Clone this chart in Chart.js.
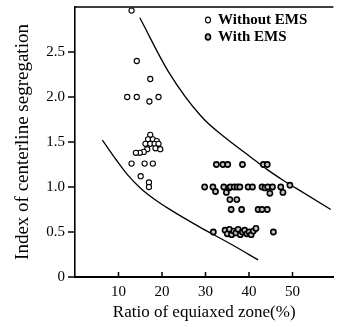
<!DOCTYPE html>
<html><head><meta charset="utf-8">
<script src="https://cdn.jsdelivr.net/npm/chart.js@4.4.0/dist/chart.umd.min.js"></script>
<style>html,body{margin:0;padding:0;background:#fff}</style>
</head><body>
<canvas id="c" width="339" height="327"></canvas>
<script>
const xTicks = [10, 20, 30, 40, 50];
const yTicks = [0, 0.5, 1.0, 1.5, 2.0, 2.5];
const yTickLabels = ['0', '0.5', '1.0', '1.5', '2.0', '2.5'];
const seriesNames = ['Without EMS', 'With EMS'];

const withoutX = [13.0, 14.2, 17.3, 12.0, 14.2, 17.1, 19.2, 17.3, 16.8, 17.9, 18.8, 16.2, 17.3, 18.3, 19.2, 18.5, 19.6, 16.6, 15.8, 14.9, 14.0, 13.0, 16.0, 17.9, 15.1, 17.0, 17.0];
const withoutY = [2.96, 2.40, 2.20, 2.00, 2.00, 1.95, 2.00, 1.58, 1.53, 1.53, 1.51, 1.48, 1.48, 1.48, 1.48, 1.43, 1.42, 1.42, 1.39, 1.38, 1.38, 1.26, 1.26, 1.26, 1.12, 1.05, 1.00];

const withX = [32.5, 34.0, 35.1, 38.5, 43.3, 44.2,
  29.8, 31.7, 32.3, 34.2, 34.8, 35.4, 35.7, 36.6, 37.3, 37.9, 39.8, 40.8, 43.0, 43.7, 44.3, 44.8, 45.4, 47.3, 47.8, 49.4,
  35.6, 37.2,
  35.9, 38.3, 42.1, 43.0, 44.2,
  31.8, 34.5, 35.0, 35.5, 36.0, 36.5, 37.0, 37.5, 38.0, 38.5, 39.0, 39.5, 40.0, 40.5, 41.0, 41.6, 45.6];
const withY = [1.25, 1.25, 1.25, 1.25, 1.25, 1.25,
  1.00, 1.00, 0.95, 1.00, 0.94, 0.99, 1.00, 1.00, 1.00, 1.00, 1.00, 1.00, 1.00, 0.99, 1.00, 0.93, 1.00, 1.00, 0.94, 1.02,
  0.86, 0.86,
  0.75, 0.75, 0.75, 0.75, 0.75,
  0.50, 0.52, 0.48, 0.53, 0.47, 0.51, 0.49, 0.53, 0.47, 0.50, 0.52, 0.48, 0.50, 0.47, 0.51, 0.54, 0.50];

const upperX = [14.9, 21.5, 29.1, 35.0, 40.2, 44.3, 48.0, 50.7, 58.8];
const upperY = [2.88, 2.28, 1.78, 1.53, 1.34, 1.19, 1.07, 0.99, 0.75];
const lowerX = [6.3, 9.5, 12.0, 15.0, 18.1, 21.5, 28.5, 36.4, 42.1];
const lowerY = [1.52, 1.30, 1.14, 0.99, 0.87, 0.76, 0.56, 0.35, 0.19];

const pts = (xs, ys) => xs.map((x, i) => ({x: x, y: ys[i]}));
const serif = "'Liberation Serif', 'DejaVu Serif', serif";

const frame = {
  id: 'frame',
  afterLayout(chart) {
    const lg = chart.legend;
    if (lg) { lg.left = 203.5; lg.top = 10.5; lg.bottom = lg.top + lg.height; lg.right = lg.left + lg.width; }
  },
  afterDraw(chart) {
    const {ctx, chartArea: {left, top, right, bottom}, scales: {x, y}} = chart;
    ctx.save();
    ctx.strokeStyle = '#000';
    ctx.lineWidth = 1.5;
    ctx.beginPath();
    ctx.moveTo(left - 1, top); ctx.lineTo(right, top);
    xTicks.forEach(v => { const p = x.getPixelForValue(v); ctx.moveTo(p, bottom); ctx.lineTo(p, bottom - 5); });
    yTicks.forEach(v => { const p = y.getPixelForValue(v); ctx.moveTo(left - 7, p); ctx.lineTo(left, p); });
    ctx.stroke();
    ctx.restore();
  }
};

new Chart(document.getElementById('c'), {
  type: 'scatter',
  data: {
    datasets: [
      {label: seriesNames[0], data: pts(withoutX, withoutY), pointRadius: 2.6, pointBorderWidth: 1.1, borderWidth: 1.1,
       borderColor: '#000', backgroundColor: '#fff', pointStyle: 'circle', order: 0},
      {label: seriesNames[1], data: pts(withX, withY), pointRadius: 2.6, pointBorderWidth: 1.6, borderWidth: 1.6,
       borderColor: '#000', backgroundColor: '#c4c4c4', pointStyle: 'circle', order: 0},
      {type: 'line', label: 'upper', data: pts(upperX, upperY), showLine: true, pointRadius: 0, borderColor: '#000',
       borderWidth: 1.3, fill: false, cubicInterpolationMode: 'monotone', order: 1},
      {type: 'line', label: 'lower', data: pts(lowerX, lowerY), showLine: true, pointRadius: 0, borderColor: '#000',
       borderWidth: 1.3, fill: false, cubicInterpolationMode: 'monotone', order: 1}
    ]
  },
  options: {
    responsive: false,
    animation: false,
    devicePixelRatio: 1,
    layout: {padding: {top: 7, right: 0, left: 0, bottom: 0}},
    plugins: {
      tooltip: {enabled: false},
      legend: {
        position: 'chartArea',
        align: 'start',
        labels: {
          filter: item => item.datasetIndex < 2,
          usePointStyle: true, pointStyleWidth: 5, boxHeight: 4, padding: 2,
          color: '#000', font: {family: serif, size: 15, weight: 'bold'}
        }
      }
    },
    scales: {
      x: {
        type: 'linear', min: 0, max: 59.4,
        afterBuildTicks: s => { s.ticks = xTicks.map(v => ({value: v})); },
        afterFit: s => { s.height = 50; s.paddingLeft = 0; s.paddingRight = 0; },
        grid: {display: false, drawTicks: false},
        border: {display: true, color: '#000', width: 2},
        ticks: {color: '#000', padding: 6, font: {family: serif, size: 15}, maxRotation: 0},
        title: {display: true, text: 'Ratio of equiaxed zone(%)', color: '#000', padding: {top: 0, bottom: 4},
                font: {family: serif, size: 17}}
      },
      y: {
        type: 'linear', min: 0, max: 3,
        afterBuildTicks: s => { s.ticks = yTicks.map(v => ({value: v})); },
        afterFit: s => { s.width = 75; s.paddingTop = 0; s.paddingBottom = 0; },
        grid: {display: false, drawTicks: false},
        border: {display: true, color: '#000', width: 1.6},
        ticks: {color: '#000', padding: 10, font: {family: serif, size: 15},
                callback: v => { const i = yTicks.indexOf(v); return i >= 0 ? yTickLabels[i] : ''; }},
        title: {display: true, text: 'Index of centerline segregation', color: '#000', padding: {top: 12, bottom: 0},
                font: {family: serif, size: 19}}
      }
    }
  },
  plugins: [frame]
});
</script>
</body></html>
